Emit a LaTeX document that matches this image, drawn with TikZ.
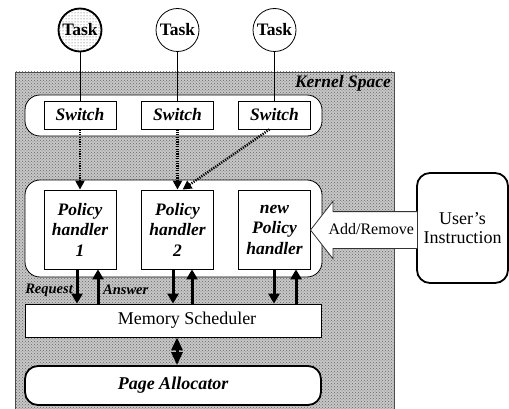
\documentclass[tikz,border=0pt]{standalone}
\usepackage{fontspec}
\setmainfont{Liberation Serif}
\usetikzlibrary{arrows.meta,patterns,shapes.arrows,calc}

\tikzset{
  tasknode/.style={circle, draw, line width=0.8pt, fill=white, minimum size=43pt, inner sep=0pt,
                   font=\fontsize{17.5}{19}\selectfont\bfseries},
  bar/.style={draw, line width=0.8pt, fill=white, rounded corners=15pt},
  switchbox/.style={draw, line width=0.8pt, fill=white, minimum width=72pt, minimum height=28pt,
                    inner sep=0pt, font=\fontsize{17.5}{19}\selectfont\bfseries\itshape},
  policybox/.style={draw, line width=0.8pt, fill=white, minimum width=72pt, minimum height=79pt,
                    inner sep=0pt, align=center, font=\fontsize{17.5}{20.5}\selectfont\bfseries\itshape},
  dotarrow/.style={line width=2.4pt, dash pattern=on 1.2pt off 1.2pt,
                   -{Triangle[length=9pt,width=9pt]}},
  bigarrow/.style={line width=3pt, -{Triangle[length=10pt,width=11pt]}},
  linktext/.style={font=\fontsize{14.5}{16}\selectfont\bfseries\itshape, inner sep=0pt},
}

\begin{document}
\begin{tikzpicture}[x=1pt,y=-1pt]
\useasboundingbox (0,0) rectangle (509,409);

% kernel space background: light grey with a fine dark dot screen
\fill[black!22] (15,72) rectangle (394,412);
\fill[pattern=crosshatch dots, pattern color=black!60] (15,72) rectangle (394,412);
\draw[black!70, line width=0.8pt] (15,412) -- (15,72) -- (394,72) -- (394,412);
\node[anchor=north east, inner sep=0pt, font=\fontsize{17.5}{19}\selectfont\bfseries\itshape]
  (kslabel) at (391,75) {Kernel Space};

% tasks
\node[tasknode] (tk1) at (80,30) {};
\fill[pattern=dots, pattern color=black!70] (tk1) circle (21.5pt);
\draw[line width=1.8pt] (tk1) circle (21.5pt);
\node[font=\fontsize{17.5}{19}\selectfont\bfseries] at (tk1) {Task};
\node[tasknode] (tk2) at (177.5,30) {Task};
\node[tasknode] (tk3) at (274.5,30) {Task};

% switch row
\draw[bar] (25,95) rectangle (322,136);
\node[switchbox] (sw1) at (80,115) {Switch};
\node[switchbox] (sw2) at (177.5,115) {Switch};
\node[switchbox] (sw3) at (274.5,115) {Switch};
\draw[line width=0.8pt] (tk1.south) -- (sw1.north);
\draw[line width=0.8pt] (tk2.south) -- (sw2.north);
\draw[line width=0.8pt] (tk3.south) -- (sw3.north);

% policy handlers
\draw[bar] (25,180) rectangle (322,277);
\node[policybox] (ph1) at (80,229.5) {Policy\\handler\\1};
\node[policybox] (ph2) at (177.5,229.5) {Policy\\handler\\2};
\node[policybox] (ph3) at (274.5,229.5) {new\\Policy\\handler};

\draw[dotarrow] (sw1.south) -- (ph1.north);
\draw[dotarrow] (sw2.south) -- (ph2.north);
\draw[dotarrow] ([xshift=-5pt]sw3.south) -- ([xshift=5pt]ph2.north);

% memory scheduler and page allocator
\node[draw, line width=0.8pt, fill=white, minimum width=296pt, minimum height=33pt, inner sep=0pt]
  (ms) at (173,320.5) {};
\node[font=\fontsize{18}{20}\selectfont, inner sep=0pt] (mslabel) at (187,320.5) {Memory Scheduler};
\node[draw, line width=1.8pt, fill=white, rounded corners=13pt, minimum width=296pt, minimum height=39pt,
      inner sep=0pt, font=\fontsize{18}{20}\selectfont\bfseries\itshape]
  (pa) at (173,385.5) {Page Allocator};

\foreach \p/\dn/\up in {ph1/-3/18, ph2/-4.5/14.5, ph3/-0.5/21.5} {
  \draw[bigarrow] ([xshift=\dn pt]\p.south) -- ([xshift=\dn pt]\p.south |- ms.north);
  \draw[bigarrow] ([xshift=\up pt]\p.south |- ms.north) -- ([xshift=\up pt]\p.south);
}
\draw[line width=3pt, {Triangle[length=13pt,width=11pt]}-{Triangle[length=13pt,width=11pt]}]
  ([xshift=4pt]ms.south) -- ([xshift=4pt]pa.north);

\node[linktext, anchor=east] (req) at (73,290) {Request};
\node[linktext, anchor=west] (ans) at (103,290) {Answer};

% user instruction
\node[draw, line width=1.8pt, fill=white, rounded corners=13pt, minimum width=91pt, minimum height=110pt,
      inner sep=0pt, align=center, font=\fontsize{18}{19}\selectfont]
  (user) at (462.5,228) {User’s\\Instruction};
\node[single arrow, draw=black!80, line width=0.8pt, fill=white, shape border rotate=180,
      anchor=tip, minimum height=107pt, inner xsep=2pt, inner ysep=11pt, text height=11pt, text depth=3pt,
      single arrow head extend=10.5pt, single arrow tip angle=104,
      font=\fontsize{16}{18}\selectfont]
  (addrm) at (310,230) {Add/Remove};
\end{tikzpicture}
\end{document}
